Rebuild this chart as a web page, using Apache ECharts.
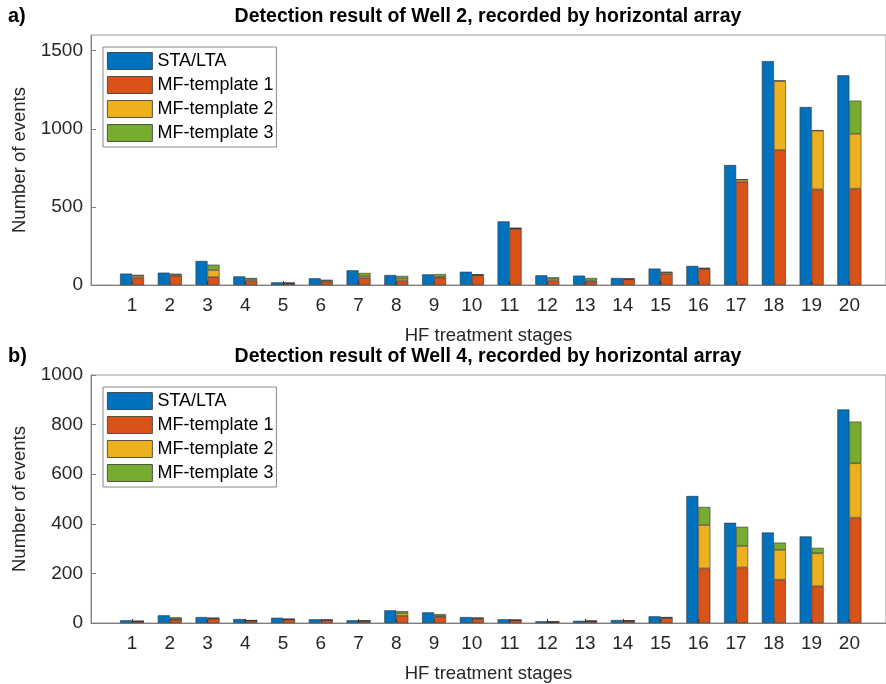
<!DOCTYPE html>
<html>
<head>
<meta charset="utf-8">
<script src="https://cdn.jsdelivr.net/npm/echarts@6/dist/echarts.min.js"></script>
<style>
html,body{margin:0;padding:0;background:#fff;}
#chart{width:886px;height:684px;}
</style>
</head>
<body>
<div id="chart"></div>
<script>
// ---- data ----
var stages = [1,2,3,4,5,6,7,8,9,10,11,12,13,14,15,16,17,18,19,20];
var seriesNames = ['STA/LTA','MF-template 1','MF-template 2','MF-template 3'];
var yTicksA = [0,500,1000,1500];
var yTicksB = [0,200,400,600,800,1000];

// Well 2
var w2Sta = [73,79,154,55,17,43,94,64,68,85,407,62,60,45,105,122,768,1433,1139,1342];
var w2Mf1 = [47,60,51,26,9,22,43,28,47,62,360,28,20,36,70,102,659,864,612,617];
var w2Mf2 = [12,6,45,10,3,6,12,13,6,3,3,12,8,3,11,4,15,442,376,351];
var w2Mf3 = [6,6,34,9,3,5,22,17,17,3,2,9,17,2,2,3,2,2,2,212];

// Well 4
var w4Sta = [11,31,24,16,21,15,11,51,43,24,15,7,9,12,27,512,404,365,349,861];
var w4Mf1 = [6,14,17,9,14,11,8,29,25,16,11,4,7,8,20,220,224,175,148,425];
var w4Mf2 = [1,2,2,1,1,1,1,10,4,4,1,1,1,1,2,175,87,120,133,219];
var w4Mf3 = [1,7,2,1,2,1,0,9,7,1,0,0,0,1,1,73,77,29,22,168];

var colors = ['#0072BD','#D95319','#EDB120','#77AC30'];
var FONT = '"Liberation Sans", Arial, Helvetica, sans-serif';

// value first, stage second (so stacking is applied to the value dimension)
function pairs(vals){ return stages.map(function(s,i){ return [vals[i], s]; }); }

function xAxis(idx){
  return {
    type:'value', gridIndex:idx, min:-0.087, max:20.97,
    name:'HF treatment stages', nameLocation:'middle', nameGap:41,
    nameTextStyle:{fontSize:18.5, color:'#262626', fontFamily:FONT},
    axisLine:{show:true, onZero:false, lineStyle:{color:'#7f7f7f', width:1}},
    axisTick:{show:true, inside:true, length:4, customValues:stages, lineStyle:{color:'#333'}},
    axisLabel:{customValues:stages, fontSize:19, color:'#262626', fontFamily:FONT, margin:11},
    splitLine:{show:false}
  };
}
function yAxis(idx, max, ticks){
  return {
    type:'value', gridIndex:idx, min:0, max:max,
    name:'Number of events', nameLocation:'middle', nameGap:58, nameRotate:90,
    nameTextStyle:{fontSize:18.5, color:'#262626', fontFamily:FONT},
    axisLine:{show:true, onZero:false, lineStyle:{color:'#7f7f7f', width:1}},
    axisTick:{show:true, inside:true, length:5, customValues:ticks, lineStyle:{color:'#7f7f7f'}},
    axisLabel:{customValues:ticks, fontSize:19, color:'#262626', fontFamily:FONT, margin:8,
               formatter:function(v){ return String(v); }},
    splitLine:{show:false}
  };
}
function bars(idx, sta, m1, m2, m3){
  var st = 'mf' + idx;
  function s(name, data, color, stack){
    var o = {type:'bar', name:name, xAxisIndex:idx, yAxisIndex:idx, barWidth:12, barGap:'0%',
             encode:{x:1, y:0}, data:pairs(data),
             itemStyle:{color:color, borderColor:'#333', borderWidth:0.6},
             emphasis:{disabled:true}};
    if (stack) o.stack = stack;
    return o;
  }
  return [
    s(seriesNames[0], sta, colors[0], null),
    s(seriesNames[1], m1, colors[1], st),
    s(seriesNames[2], m2, colors[2], st),
    s(seriesNames[3], m3, colors[3], st)
  ];
}
function legend(top){
  return {
    left:103, top:top, orient:'vertical', icon:'rect',
    itemWidth:45, itemHeight:17, itemGap:6,
    padding:[5,3,5,4], borderColor:'#888', borderWidth:1, backgroundColor:'#fff',
    selectedMode:false,
    itemStyle:{borderColor:'#333', borderWidth:0.8},
    textStyle:{fontSize:18, color:'#000', fontFamily:FONT},
    data:seriesNames
  };
}

var chart = echarts.init(document.getElementById('chart'), null, {renderer:'canvas'});
chart.setOption({
  animation:false,
  backgroundColor:'#fff',
  grid:[
    {left:91, top:35, width:800, height:250, show:true, borderColor:'#9a9a9a', borderWidth:1, containLabel:false},
    {left:91, top:375, width:800, height:250, show:true, borderColor:'#9a9a9a', borderWidth:1, containLabel:false}
  ],
  xAxis:[xAxis(0), xAxis(1)],
  yAxis:[yAxis(0,1600,yTicksA), yAxis(1,1000,yTicksB)],
  legend:[legend(47), legend(387)],
  series: bars(0, w2Sta, w2Mf1, w2Mf2, w2Mf3).concat(bars(1, w4Sta, w4Mf1, w4Mf2, w4Mf3)),
  graphic:[
    {type:'text', left:8, top:6, style:{text:'a)', font:'bold 20px '+FONT, fill:'#000'}},
    {type:'text', x:488, y:17, style:{text:'Detection result of Well 2, recorded by horizontal array', font:'bold 19.5px '+FONT, fill:'#000', align:'center', verticalAlign:'middle'}},
    {type:'text', left:8, top:346, style:{text:'b)', font:'bold 20px '+FONT, fill:'#000'}},
    {type:'text', x:488, y:357, style:{text:'Detection result of Well 4, recorded by horizontal array', font:'bold 19.5px '+FONT, fill:'#000', align:'center', verticalAlign:'middle'}}
  ]
});
</script>
</body>
</html>
